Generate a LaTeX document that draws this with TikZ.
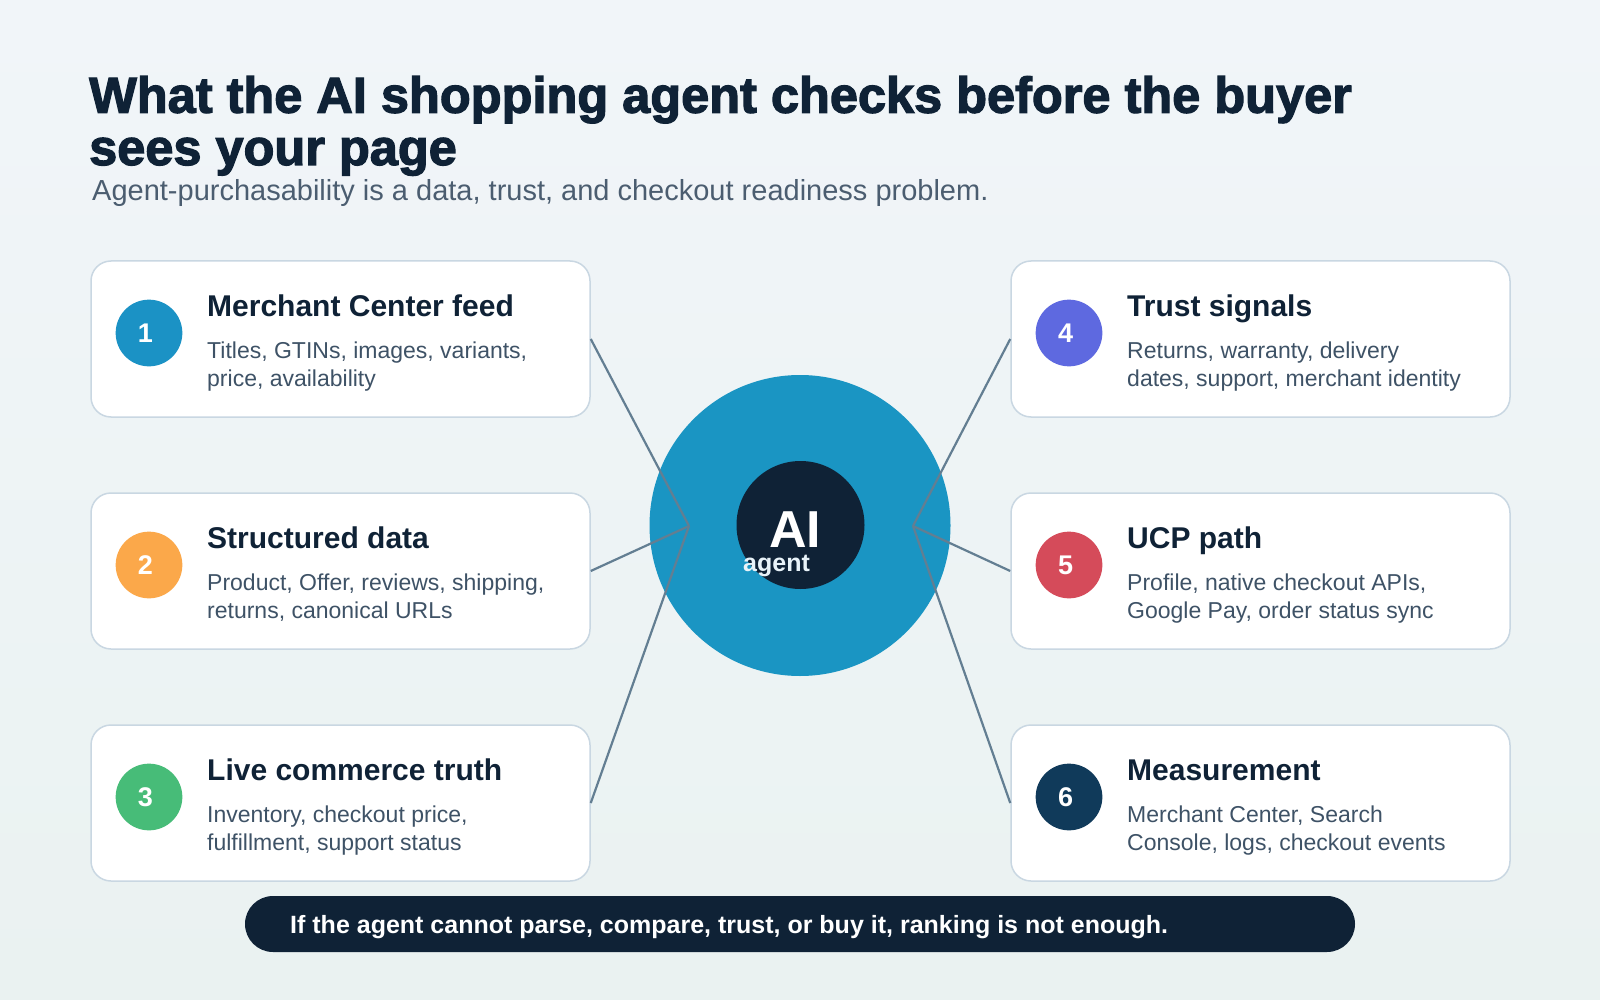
\documentclass[tikz,border=0pt]{standalone}
\usepackage{fontspec}
\setmainfont{Liberation Sans}
\newfontfamily\heavyfont{Liberation Sans}[BoldFeatures={FakeBold=2.4}]
\definecolor{navy}{HTML}{0F2236}
\definecolor{subgray}{HTML}{4B5D70}
\definecolor{desccol}{HTML}{3E5266}
\definecolor{cardborder}{HTML}{C9D7E2}
\definecolor{conncol}{HTML}{637E92}
\definecolor{bigblue}{HTML}{1A95C3}
\definecolor{agentwhite}{HTML}{E8F3F9}
\definecolor{bgtop}{HTML}{F1F5F9}
\definecolor{bgbot}{HTML}{EAF2F1}
\definecolor{nA}{HTML}{1B92C5}
\definecolor{nB}{HTML}{FBA84A}
\definecolor{nC}{HTML}{47BC78}
\definecolor{nD}{HTML}{5E69E0}
\definecolor{nE}{HTML}{D54B5A}
\definecolor{nF}{HTML}{103A5A}
\tikzset{
  card/.style={draw=cardborder, line width=1.5, fill=white, rounded corners=20,
    minimum width=499, minimum height=156, inner sep=0},
  numdot/.style={circle, minimum size=66.7, inner sep=0, text=white,
    font=\bfseries\fontsize{27}{30}\selectfont},
  cardtitle/.style={anchor=base west, inner sep=0, text=navy,
    font=\bfseries\fontsize{30}{36}\selectfont},
  carddesc/.style={anchor=base west, inner sep=0, text=desccol,
    font=\fontsize{23}{28}\selectfont},
  conn/.style={draw=conncol, line width=2.2},
}
\newcommand{\infocard}[8]{%
  \node[card] (#1) at (#2+249.5, #3+78) {};
  \node[numdot, fill=#4] (#1n) at (#2+58, #3+72) {\kern-7pt #5};
  \node[cardtitle] (#1t) at (#2+116, #3+55.7) {#6};
  \node[carddesc] (#1a) at (#2+116, #3+97.5) {#7};
  \node[carddesc] (#1b) at (#2+116, #3+125.5) {#8};
}
\begin{document}
\begin{tikzpicture}[x=1pt, y=-1pt]
\useasboundingbox (0,0) rectangle (1600,1000);
\shade[top color=bgtop, bottom color=bgbot] (0,0) rectangle (1600,1000);

% title
\node[anchor=base west, inner sep=0, text=navy, font=\heavyfont\bfseries\fontsize{50.5}{52}\selectfont] (title1) at (89,112.7) {What the AI shopping agent checks before the buyer};
\node[anchor=base west, inner sep=0, text=navy, font=\heavyfont\bfseries\fontsize{50.5}{52}\selectfont] (title2) at (89,165) {sees your page};
\node[anchor=base west, inner sep=0, text=subgray, font=\fontsize{29}{34}\selectfont] (subtitle) at (92,201) {Agent-purchasability is a data, trust, and checkout readiness problem.};

% hub
\node[circle, fill=bigblue, minimum size=301, inner sep=0] (hub) at (800,525.5) {};
\coordinate (lc) at (689,526);
\coordinate (rc) at (913,526);

% cards
\infocard{c1}{91}{261}{nA}{1}{Merchant Center feed}{Titles, GTINs, images, variants,}{price, availability}
\infocard{c2}{91}{493}{nB}{2}{Structured data}{Product, Offer, reviews, shipping,}{returns, canonical URLs}
\infocard{c3}{91}{725}{nC}{3}{Live commerce truth}{Inventory, checkout price,}{fulfillment, support status}
\infocard{c4}{1011}{261}{nD}{4}{Trust signals}{Returns, warranty, delivery}{dates, support, merchant identity}
\infocard{c5}{1011}{493}{nE}{5}{UCP path}{Profile, native checkout APIs,}{Google Pay, order status sync}
\infocard{c6}{1011}{725}{nF}{6}{Measurement}{Merchant Center, Search}{Console, logs, checkout events}

% connectors
\draw[conn] (c1.east) -- (lc);
\draw[conn] (c2.east) -- (lc);
\draw[conn] (c3.east) -- (lc);
\draw[conn] (c4.west) -- (rc);
\draw[conn] (c5.west) -- (rc);
\draw[conn] (c6.west) -- (rc);

\node[circle, fill=navy, minimum size=128, inner sep=0] (core) at (800.5,525) {};
\node[anchor=base, inner sep=0, text=white, font=\bfseries\fontsize{52}{52}\selectfont] (ai) at (795,547.5) {AI};
\node[anchor=base west, inner sep=0, text=agentwhite, font=\bfseries\fontsize{25}{25}\selectfont] (agent) at (743,571) {agent};

% banner
\node[fill=navy, rounded corners=28, minimum width=1110, minimum height=56, inner sep=0] (banner) at (800,924) {};
\node[anchor=base west, inner sep=0, text=white, font=\bfseries\fontsize{25}{30}\selectfont] (bannertext) at (290,933) {If the agent cannot parse, compare, trust, or buy it, ranking is not enough.};
\end{tikzpicture}
\end{document}
